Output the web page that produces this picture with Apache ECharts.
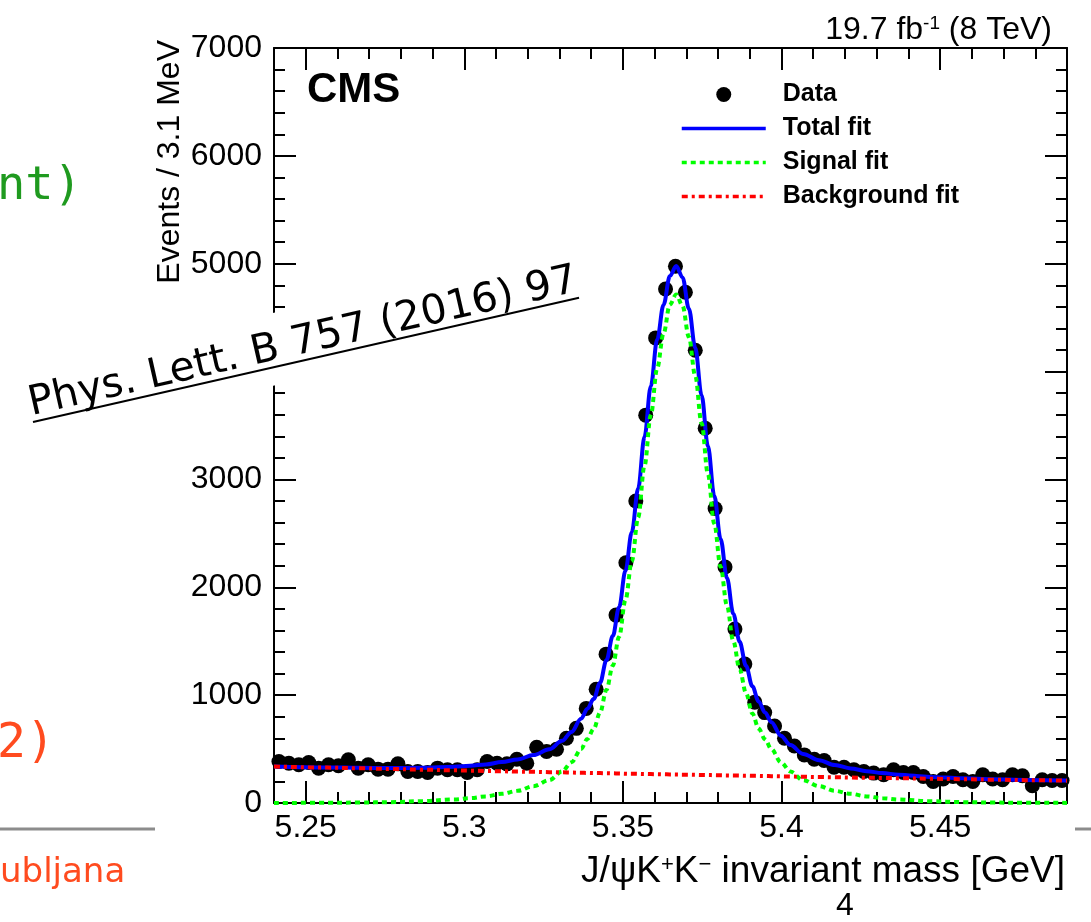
<!DOCTYPE html>
<html>
<head>
<meta charset="utf-8">
<script src="https://cdn.jsdelivr.net/npm/echarts@6/dist/echarts.min.js"></script>
<style>
  html, body { margin: 0; padding: 0; background: #fff; }
  #chart { width: 1091px; height: 922px; }
</style>
</head>
<body>
<div id="chart"></div>
<script>
// Binning of the J/psi K+K- mass histogram: 80 bins of 3.125 MeV from 5.24 GeV
const binLow = 5.24;
const binWidth = 0.003125;

// Events per bin
const dataCounts = [
  385, 369, 354, 375, 323, 354, 345, 400, 323, 354,
  314, 314, 363, 292, 292, 283, 323, 308, 308, 283,
  308, 385, 369, 363, 406, 369, 517, 477, 498, 600,
  692, 877, 1055, 1380, 1742, 2228, 2800, 3596, 4312, 4765,
  4977, 4735, 4198, 3475, 2730, 2188, 1613, 1288, 935, 838,
  714, 600, 529, 446, 406, 394, 332, 332, 308, 292,
  277, 262, 308, 283, 283, 246, 200, 222, 246, 215,
  200, 262, 222, 215, 262, 252, 160, 215, 209, 209
];

// Fit curves sampled along the mass axis (GeV)
const fitMass = [
  5.2400, 5.2568, 5.2668, 5.2768, 5.2868, 5.2968, 5.3018, 5.3068, 5.3118, 5.3168,
  5.3218, 5.3268, 5.3308, 5.3338, 5.3368, 5.3388, 5.3408, 5.3428, 5.3448, 5.3468,
  5.3488, 5.3508, 5.3528, 5.3548, 5.3568, 5.3588, 5.3608, 5.3628, 5.3648, 5.3668,
  5.3688, 5.3708, 5.3728, 5.3748, 5.3768, 5.3788, 5.3808, 5.3828, 5.3848, 5.3868,
  5.3888, 5.3908, 5.3928, 5.3948, 5.3968, 5.3998, 5.4028, 5.4068, 5.4118, 5.4168,
  5.4218, 5.4268, 5.4318, 5.4368, 5.4468, 5.4568, 5.4668, 5.4768, 5.4900
];
const totalFit = [
  339, 330, 326, 324, 326, 336, 345, 358, 379, 404,
  445, 498, 576, 659, 780, 873, 966, 1116, 1323, 1548,
  1816, 2153, 2511, 2915, 3395, 3865, 4298, 4618, 4886, 4979,
  4873, 4582, 4221, 3780, 3309, 2848, 2447, 2086, 1755, 1494,
  1273, 1082, 941, 840, 749, 624, 537, 455, 397, 352,
  321, 295, 277, 263, 242, 229, 220, 214, 208
];
const signalFit = [
  0, 2, 4, 8, 17, 33, 45, 61, 85, 113,
  156, 212, 292, 377, 500, 594, 688, 839, 1047, 1273,
  1542, 1881, 2240, 2645, 3126, 3597, 4031, 4352, 4621, 4715,
  4610, 4320, 3960, 3520, 3050, 2590, 2190, 1830, 1500, 1240,
  1020, 830, 690, 590, 500, 377, 292, 212, 156, 113,
  85, 61, 45, 33, 17, 8, 4, 2, 1
];
const backgroundFit = [
  339, 328, 322, 316, 309, 303, 300, 297, 294, 291,
  289, 286, 284, 282, 280, 279, 278, 277, 276, 275,
  274, 272, 271, 270, 269, 268, 267, 266, 265, 264,
  263, 262, 261, 260, 259, 258, 257, 256, 255, 254,
  253, 252, 251, 250, 249, 247, 245, 243, 241, 239,
  236, 234, 232, 230, 225, 221, 216, 212, 207
];

// Axis ranges and tick positions
const xMin = 5.24, xMax = 5.49;
const xMajorTicks = [5.25, 5.3, 5.35, 5.4, 5.45];
const xMinorTicks = [5.24, 5.25, 5.26, 5.27, 5.28, 5.29, 5.3, 5.31, 5.32, 5.33, 5.34, 5.35, 5.36,
  5.37, 5.38, 5.39, 5.4, 5.41, 5.42, 5.43, 5.44, 5.45, 5.46, 5.47, 5.48, 5.49];
const yMin = 0, yMax = 7000, yStep = 1000;

const FONT = 'Liberation Sans';
const black = '#000';

const chart = echarts.init(document.getElementById('chart'), null, { renderer: 'canvas' });

const dataPoints = dataCounts.map((v, i) => [binLow + (i + 0.5) * binWidth, v]);
const pairs = (ys) => fitMass.map((m, i) => [m, ys[i]]);

const tickLine = { color: black, width: 2 };
const xBase = { type: 'value', min: xMin, max: xMax, splitLine: { show: false }, gridIndex: 0 };
const yBase = { type: 'value', min: yMin, max: yMax, interval: yStep, splitLine: { show: false }, gridIndex: 0 };

chart.setOption({
  animation: false,
  backgroundColor: '#fff',
  grid: { left: 274, right: 24, top: 48, bottom: 119, containLabel: false },
  xAxis: [
    Object.assign({}, xBase, {
      position: 'bottom',
      axisLine: { show: true, onZero: false, lineStyle: tickLine },
      axisTick: { show: true, inside: true, length: 22, customValues: xMajorTicks, lineStyle: tickLine },
      axisLabel: { show: true, customValues: xMajorTicks, fontSize: 32, fontFamily: FONT, color: black, margin: 9 }
    }),
    Object.assign({}, xBase, {
      position: 'bottom',
      axisLine: { show: false, onZero: false },
      axisTick: { show: true, inside: true, length: 11, customValues: xMinorTicks, lineStyle: tickLine },
      axisLabel: { show: false }
    }),
    Object.assign({}, xBase, {
      position: 'top',
      axisLine: { show: true, onZero: false, lineStyle: tickLine },
      axisTick: { show: true, inside: true, length: 22, customValues: xMajorTicks, lineStyle: tickLine },
      axisLabel: { show: false }
    }),
    Object.assign({}, xBase, {
      position: 'top',
      axisLine: { show: false, onZero: false },
      axisTick: { show: true, inside: true, length: 11, customValues: xMinorTicks, lineStyle: tickLine },
      axisLabel: { show: false }
    })
  ],
  yAxis: [
    Object.assign({}, yBase, {
      position: 'left',
      axisLine: { show: true, onZero: false, lineStyle: tickLine },
      axisTick: { show: true, inside: true, length: 22, lineStyle: tickLine },
      minorTick: { show: true, splitNumber: 5, length: 11, lineStyle: tickLine },
      minorSplitLine: { show: false },
      axisLabel: { show: true, fontSize: 32, fontFamily: FONT, color: black, margin: 12,
                   formatter: (v) => String(v) }
    }),
    Object.assign({}, yBase, {
      position: 'right',
      axisLine: { show: true, onZero: false, lineStyle: tickLine },
      axisTick: { show: true, inside: true, length: 22, lineStyle: tickLine },
      minorTick: { show: true, splitNumber: 5, length: 11, lineStyle: tickLine },
      minorSplitLine: { show: false },
      axisLabel: { show: false }
    })
  ],
  legend: {
    orient: 'vertical',
    left: 680,
    top: 82,
    padding: 0,
    itemWidth: 84,
    itemHeight: 15,
    itemGap: 9,
    lineStyle: { width: 3.5 },
    textStyle: { fontSize: 25, fontWeight: 'bold', fontFamily: FONT, color: black, padding: [0, 0, 0, 12] },
    data: [
      { name: 'Data', icon: 'circle' },
      { name: 'Total fit', itemStyle: { opacity: 0 } },
      { name: 'Signal fit', itemStyle: { opacity: 0 } },
      { name: 'Background fit', itemStyle: { opacity: 0 } }
    ]
  },
  series: [
    {
      name: 'Data', type: 'scatter', xAxisIndex: 0, yAxisIndex: 0,
      data: dataPoints, symbol: 'circle', symbolSize: 15,
      itemStyle: { color: black, opacity: 1 }
    },
    {
      name: 'Total fit', type: 'line', xAxisIndex: 0, yAxisIndex: 0,
      data: pairs(totalFit), showSymbol: false, smooth: 0.35, smoothMonotone: 'x',
      lineStyle: { color: '#0000ff', width: 4 }, itemStyle: { color: '#0000ff' }
    },
    {
      name: 'Signal fit', type: 'line', xAxisIndex: 0, yAxisIndex: 0,
      data: pairs(signalFit), showSymbol: false, smooth: 0.35, smoothMonotone: 'x',
      lineStyle: { color: '#00ff00', width: 4, type: [5, 4] }, itemStyle: { color: '#00ff00' }
    },
    {
      name: 'Background fit', type: 'line', xAxisIndex: 0, yAxisIndex: 0,
      data: pairs(backgroundFit), showSymbol: false, smooth: 0.35, smoothMonotone: 'x',
      lineStyle: { color: '#ff0000', width: 4, type: [6, 4, 3, 4] }, itemStyle: { color: '#ff0000' }
    }
  ],
  graphic: [
    // experiment tag and luminosity
    { type: 'text', x: 307, y: 90, z: 50,
      style: { text: 'CMS', font: 'bold 42px "Liberation Sans"', fill: black, verticalAlign: 'middle' } },
    { type: 'text', x: 1052, y: 30, z: 50,
      style: {
        text: '{a|19.7 fb}{s|-1}{a| (8 TeV)}', fill: black, align: 'right', verticalAlign: 'middle',
        font: '32px "Liberation Sans"',
        rich: { a: { fontSize: 32, fontFamily: FONT, fill: black },
                s: { fontSize: 19, fontFamily: FONT, fill: black, verticalAlign: 'top' } }
      } },
    // axis titles
    { type: 'text', x: 170, y: 40, rotation: Math.PI / 2, z: 50,
      style: { text: 'Events / 3.1 MeV', font: '32px "Liberation Sans"', fill: black,
               align: 'right', verticalAlign: 'middle' } },
    { type: 'text', x: 1065, y: 872, z: 50,
      style: {
        text: '{a|J/ψK}{s|+}{a|K}{s|−}{a| invariant mass [GeV]}', fill: black,
        align: 'right', verticalAlign: 'middle', font: '37px "Liberation Sans"',
        rich: { a: { fontSize: 37, fontFamily: FONT, fill: black },
                s: { fontSize: 22, fontFamily: FONT, fill: black, verticalAlign: 'top' } }
      } },
    // journal reference stamped across the axis
    { type: 'group', x: 33, y: 422, rotation: 0.2237, z: 100,
      children: [
        { type: 'rect', z: 100, shape: { x: -10, y: -53, width: 580, height: 71 }, style: { fill: '#fff' } },
        { type: 'text', z: 101, x: 0, y: 3,
          style: { text: 'Phys. Lett. B 757 (2016) 97', font: '41px "DejaVu Sans"', fill: black, verticalAlign: 'bottom' } },
        { type: 'line', z: 101, shape: { x1: 0, y1: 0, x2: 560, y2: 0 }, style: { stroke: black, lineWidth: 2 } }
      ] },
    // surrounding slide text
    { type: 'text', x: -3, y: 187, z: 50,
      style: { text: 'nt)', font: '47px "DejaVu Sans Mono"', fill: '#1f9a1f', verticalAlign: 'middle' } },
    { type: 'text', x: -3, y: 745, z: 50,
      style: { text: '2)', font: '48px "DejaVu Sans Mono"', fill: '#ff4b1f', verticalAlign: 'middle' } },
    { type: 'text', x: 0, y: 873, z: 50,
      style: { text: 'ubljana', font: '34px "DejaVu Sans"', fill: '#ff4b1f', verticalAlign: 'middle' } },
    { type: 'text', x: 845, y: 906, z: 50,
      style: { text: '4', font: '32px "Liberation Sans"', fill: black, align: 'center', verticalAlign: 'middle' } },
    { type: 'line', z: 50, shape: { x1: 0, y1: 829, x2: 155, y2: 829 }, style: { stroke: '#8c8c8c', lineWidth: 3 } },
    { type: 'line', z: 50, shape: { x1: 1075, y1: 829, x2: 1091, y2: 829 }, style: { stroke: '#8c8c8c', lineWidth: 3 } }
  ]
});
</script>
</body>
</html>
